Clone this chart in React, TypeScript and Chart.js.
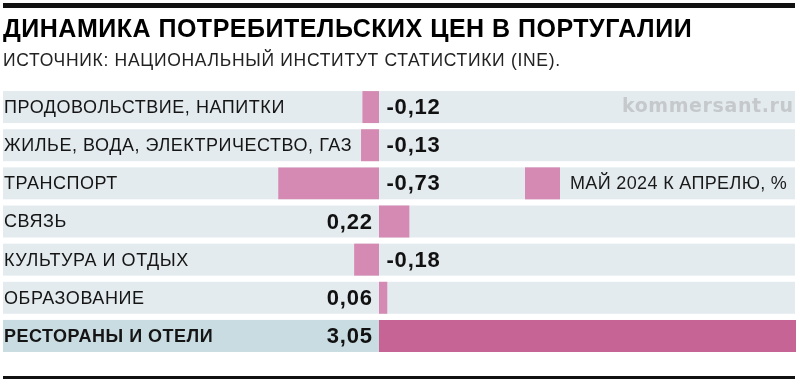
import React, { useEffect, useRef } from "react";
import { Chart, registerables } from "chart.js";

Chart.register(...registerables);

const TITLE = "ДИНАМИКА ПОТРЕБИТЕЛЬСКИХ ЦЕН В ПОРТУГАЛИИ";
const SUBTITLE = "ИСТОЧНИК: НАЦИОНАЛЬНЫЙ ИНСТИТУТ СТАТИСТИКИ (INE).";
const LEGEND_LABEL = "МАЙ 2024 К АПРЕЛЮ, %";
const WATERMARK = "kommersant.ru";

const categories = [
  "ПРОДОВОЛЬСТВИЕ, НАПИТКИ",
  "ЖИЛЬЕ, ВОДА, ЭЛЕКТРИЧЕСТВО, ГАЗ",
  "ТРАНСПОРТ",
  "СВЯЗЬ",
  "КУЛЬТУРА И ОТДЫХ",
  "ОБРАЗОВАНИЕ",
  "РЕСТОРАНЫ И ОТЕЛИ",
];
const values = [-0.12, -0.13, -0.73, 0.22, -0.18, 0.06, 3.05];
const highlighted = [false, false, false, false, false, false, true];

const PINK = "#d48ab3";
const PINK_DARK = "#c66595";
const BAND = "#e3ebee";
const BAND_DARK = "#c8dce1";
const FONT = "'Liberation Sans', Arial, sans-serif";

const fmt = (v: number) => v.toFixed(2).replace(".", ",");

const decor = {
  id: "decor",
  beforeDraw(chart: any) {
    const ctx = chart.ctx as CanvasRenderingContext2D;
    const { left, right } = chart.chartArea;
    ctx.save();
    ctx.fillStyle = "#ffffff";
    ctx.fillRect(0, 0, chart.width, chart.height);
    ctx.fillStyle = "#111111";
    ctx.fillRect(left, 3, right - left, 5);
    ctx.fillRect(left, 376, right - left, 3);
    ctx.textBaseline = "alphabetic";
    ctx.textAlign = "left";
    ctx.fillStyle = "#000000";
    ctx.font = `bold 25px ${FONT}`;
    (ctx as any).letterSpacing = "0.5px";
    ctx.fillText(TITLE, 3, 37);
    ctx.fillStyle = "#222222";
    ctx.font = `17.5px ${FONT}`;
    (ctx as any).letterSpacing = "0.7px";
    ctx.fillText(SUBTITLE, 3, 66);
    (ctx as any).letterSpacing = "0px";
    ctx.restore();
  },
  beforeDatasetsDraw(chart: any) {
    const ctx = chart.ctx as CanvasRenderingContext2D;
    const { left, right } = chart.chartArea;
    const ys = chart.scales.y;
    const xs = chart.scales.x;
    const zero = xs.getPixelForValue(0);
    const meta = chart.getDatasetMeta(0);
    ctx.save();
    categories.forEach((_, i) => {
      const y = ys.getPixelForValue(i);
      const h = meta.data[i].height;
      ctx.fillStyle = BAND;
      ctx.fillRect(left, y - h / 2, right - left, h);
      if (highlighted[i]) {
        ctx.fillStyle = BAND_DARK;
        ctx.fillRect(left, y - h / 2, zero - left, h);
      }
    });
    ctx.restore();
  },
  afterDatasetsDraw(chart: any) {
    const ctx = chart.ctx as CanvasRenderingContext2D;
    const { right } = chart.chartArea;
    const ys = chart.scales.y;
    const xs = chart.scales.x;
    const zero = xs.getPixelForValue(0);
    const meta = chart.getDatasetMeta(0);
    ctx.save();
    ctx.textBaseline = "middle";
    categories.forEach((c, i) => {
      const y = ys.getPixelForValue(i);
      ctx.fillStyle = "#151515";
      ctx.textAlign = "left";
      if (highlighted[i]) {
        ctx.font = `bold 18px ${FONT}`;
        (ctx as any).letterSpacing = "0.5px";
      } else {
        ctx.font = `18px ${FONT}`;
        (ctx as any).letterSpacing = "0.55px";
      }
      ctx.fillText(c, 4, y + 1);
      ctx.font = `bold 22px ${FONT}`;
      (ctx as any).letterSpacing = "0.8px";
      ctx.fillStyle = "#111111";
      const v = values[i];
      if (v < 0) {
        ctx.textAlign = "left";
        ctx.fillText(fmt(v), zero + 7.5, y + 1);
      } else {
        ctx.textAlign = "right";
        ctx.fillText(fmt(v), zero - 7 + 0.8, y + 1);
      }
    });
    // watermark in first row
    const y0 = ys.getPixelForValue(0);
    ctx.font = `bold 19px 'DejaVu Sans', sans-serif`;
    (ctx as any).letterSpacing = "0.6px";
    ctx.fillStyle = "#c5c9cc";
    ctx.textAlign = "right";
    ctx.fillText(WATERMARK, right - 2 + 0.6, y0);
    // legend in third row
    const y2 = ys.getPixelForValue(2);
    const h = meta.data[2].height;
    ctx.fillStyle = PINK;
    ctx.fillRect(525, y2 - h / 2, 35, h);
    ctx.font = `18px ${FONT}`;
    (ctx as any).letterSpacing = "0.35px";
    ctx.fillStyle = "#1a1a1a";
    ctx.textAlign = "left";
    ctx.fillText(LEGEND_LABEL, 570, y2 + 1);
    (ctx as any).letterSpacing = "0px";
    ctx.restore();
  },
};

export default function App() {
  const ref = useRef<HTMLCanvasElement | null>(null);
  useEffect(() => {
    document.body.style.margin = "0";
    const canvas = ref.current;
    if (!canvas) return;
    const chart = new Chart(canvas, {
      type: "bar",
      data: {
        labels: categories,
        datasets: [
          {
            data: values,
            backgroundColor: values.map((_, i) => (highlighted[i] ? PINK_DARK : PINK)),
            borderWidth: 0,
            barPercentage: 0.838,
            categoryPercentage: 1,
            clip: { left: 0, right: 1, top: false, bottom: false } as any,
          },
        ],
      },
      options: {
        indexAxis: "y",
        animation: false,
        responsive: false,
        devicePixelRatio: 1,
        layout: { padding: { left: 3, right: 5, top: 88, bottom: 29 } },
        scales: {
          x: { display: false, min: -2.7246, max: 3.0145 },
          y: { display: false },
        },
        plugins: {
          legend: { display: false },
          tooltip: { enabled: false },
          title: { display: false },
        },
      },
      plugins: [decor],
    });
    return () => chart.destroy();
  }, []);
  return (
    <div style={{ width: 800, height: 384 }}>
      <canvas ref={ref} width={800} height={384} style={{ display: "block" }} />
    </div>
  );
}
